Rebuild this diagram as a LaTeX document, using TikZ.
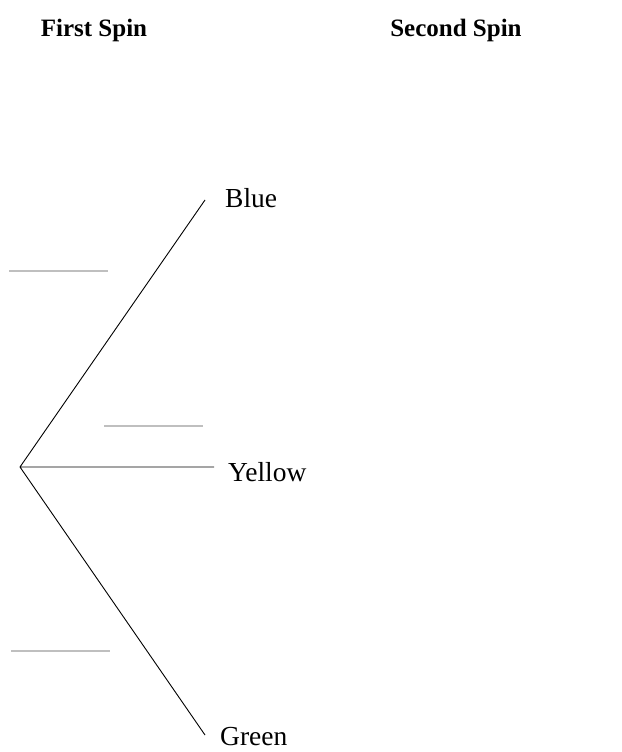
\documentclass[tikz,border=0pt]{standalone}
\usepackage{fontspec}
\setmainfont{Liberation Serif}
\usetikzlibrary{positioning}

\tikzset{
    head/.style={font=\fontsize{25}{28}\selectfont\bfseries, inner sep=0pt, anchor=base},
    lbl/.style={font=\fontsize{27.5}{30}\selectfont, inner sep=0pt, anchor=base west},
    blank/.style={draw=gray!50, line width=2.4pt},
    branch/.style={draw=black, line width=0.9pt}
}

\begin{document}
\begin{tikzpicture}[x=1pt, y=-1pt]
                        \useasboundingbox (0, 0) rectangle (621, 752);

                        \node[head] (fs) at (94, 37) {First Spin};
                        \node[head] (ss) at (456, 37) {Second Spin};

                        \coordinate (r0) at (20, 467);
                        \coordinate (b0) at (205, 200);
                        \coordinate (y0) at (214, 467);
                        \coordinate (g0) at (205, 735);

                        \node[lbl] (b1) at (225, 207) {Blue};
                        \node[lbl] (y1) at (228, 481) {Yellow};
                        \node[lbl] (g1) at (220, 745) {Green};

                        \draw[branch]
                        (r0) -- (b0)
                        (r0) -- (y0)
                        (r0) -- (g0);

                        \draw[blank] (9, 271) -- ++(99, 0);
                        \draw[blank] (104, 426) -- ++(99, 0);
                        \draw[blank] (11, 651) -- ++(99, 0);
                    \end{tikzpicture}
\end{document}
